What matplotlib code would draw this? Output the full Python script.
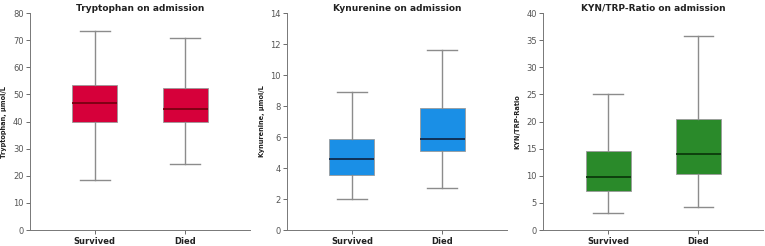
import matplotlib
matplotlib.use("Agg")
import matplotlib.pyplot as plt

groups = ["Survived", "Died"]

# five-number summaries: whislo, q1, med, q3, whishi
trp_survived = [18.5, 39.7, 47.0, 53.5, 73.2]
trp_died = [24.5, 39.7, 44.5, 52.5, 70.9]
kyn_survived = [2.0, 3.55, 4.55, 5.85, 8.9]
kyn_died = [2.7, 5.1, 5.9, 7.85, 11.6]
ratio_survived = [3.2, 7.2, 9.7, 14.5, 25.1]
ratio_died = [4.2, 10.3, 14.0, 20.5, 35.7]

titles = ["Tryptophan on admission", "Kynurenine on admission", "KYN/TRP-Ratio on admission"]
ylabels = ["Tryptophan, \u00b5mol/L", "Kynurenine, \u00b5mol/L", "KYN/TRP-Ratio"]
yticks = [range(0, 81, 10), range(0, 15, 2), range(0, 41, 5)]
colors = ["#D6003A", "#1A8FE6", "#2A8A2A"]
median_colors = ["#7A0012", "#0E2A4E", "#0C3A0C"]
data = [(trp_survived, trp_died), (kyn_survived, kyn_died), (ratio_survived, ratio_died)]

lefts = [0.039, 0.375, 0.710]

fig = plt.figure(figsize=(7.65, 2.46), dpi=100)

for i in range(3):
	ax = fig.add_axes([lefts[i], 0.065, 0.288, 0.882])
	stats = []
	for s in data[i]:
		stats.append({"whislo": s[0], "q1": s[1], "med": s[2], "q3": s[3], "whishi": s[4], "fliers": []})
	ax.bxp(stats, positions=[1, 2], widths=0.5, patch_artist=True, showfliers=False,
		boxprops=dict(facecolor=colors[i], edgecolor="#9a9a9a", linewidth=0.6),
		medianprops=dict(color=median_colors[i], linewidth=1.3),
		whiskerprops=dict(color="#8c8c8c", linewidth=1.0),
		capprops=dict(color="#8c8c8c", linewidth=1.0),
		capwidths=0.33)
	ax.set_xlim(0.28, 2.72)
	ax.set_ylim(yticks[i][0], yticks[i][-1])
	ax.set_yticks(list(yticks[i]))
	ax.set_xticks([1, 2])
	ax.set_xticklabels(groups, fontsize=6, fontweight="bold", color="#222222")
	ax.tick_params(axis="y", labelsize=6, colors="#555555", length=3, width=0.6, pad=1.5)
	ax.tick_params(axis="x", length=3, width=0.6, color="#555555", pad=2)
	for sp in ["top", "right"]:
		ax.spines[sp].set_visible(False)
	for sp in ["left", "bottom"]:
		ax.spines[sp].set_color("#777777")
		ax.spines[sp].set_linewidth(0.7)
	ax.set_title(titles[i], fontsize=6.5, fontweight="bold", color="#222222", pad=1.5)
	ax.set_ylabel(ylabels[i], fontsize=4.8, fontweight="bold", color="#222222", labelpad=4)

fig.savefig("out.png", dpi=100)
